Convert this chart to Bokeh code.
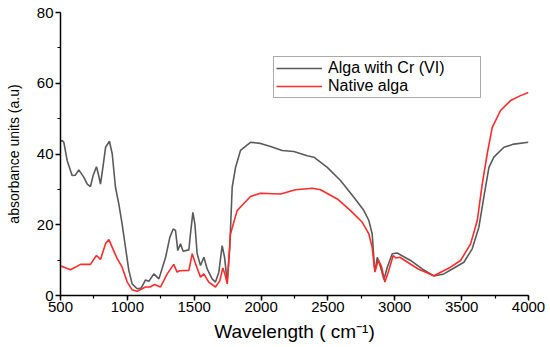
from bokeh.plotting import figure
from bokeh.models import Range1d, SingleIntervalTicker, Legend, LegendItem
from bokeh.embed import file_html
from bokeh.resources import INLINE

# Alga with Cr (VI)
cr_wavenumber = [500, 513, 525, 550, 587, 610, 637, 675, 700, 724, 744, 769, 785, 799, 820,
                 837, 866, 887, 911, 936, 961, 986, 1011, 1036, 1073, 1103, 1136, 1161,
                 1198, 1236, 1286, 1318, 1343, 1360, 1377, 1397, 1417, 1460, 1472, 1490,
                 1505, 1522, 1547, 1572, 1597, 1634, 1659, 1684, 1709, 1727, 1747, 1766,
                 1784, 1809, 1846, 1921, 1996, 2071, 2158, 2245, 2345, 2395, 2495, 2594,
                 2694, 2769, 2806, 2831, 2848, 2856, 2869, 2894, 2919, 2944, 2981, 3018,
                 3118, 3205, 3292, 3367, 3430, 3517, 3579, 3629, 3666, 3704, 3741, 3816,
                 3891, 4000]
cr_absorbance = [43.5, 43.8, 43.3, 38.1, 33.9, 34.0, 35.5, 33.4, 31.5, 30.8, 33.9, 36.4, 34.0,
                 31.5, 37.0, 41.9, 43.6, 40.0, 30.6, 25.9, 20.2, 13.6, 7.1, 3.3, 1.9, 2.1,
                 4.4, 4.0, 6.1, 4.7, 10.8, 16.5, 18.8, 18.4, 12.7, 14.6, 12.5, 12.9, 17.4,
                 23.5, 20.2, 11.8, 8.5, 10.8, 7.5, 4.7, 3.8, 6.6, 14.1, 10.8, 3.8, 13.6,
                 30.6, 36.2, 41.0, 43.3, 43.0, 42.1, 41.0, 40.7, 39.5, 39.1, 36.2, 32.5,
                 27.8, 24.0, 21.2, 17.4, 8.0, 7.5, 10.8, 8.0, 4.5, 8.0, 11.8, 12.0,
                 9.9, 7.5, 5.5, 6.1, 7.5, 9.4, 13.2, 19.3, 27.8, 36.2, 39.1, 41.9,
                 42.8, 43.3]

# Native alga
native_wavenumber = [500, 513, 575, 650, 724, 769, 799, 837, 862, 887, 924, 961, 999, 1036,
                     1073, 1136, 1170, 1203, 1248, 1298, 1347, 1372, 1390, 1460, 1485, 1510,
                     1547, 1572, 1609, 1659, 1692, 1714, 1729, 1747, 1771, 1821, 1846, 1921,
                     1996, 2146, 2258, 2383, 2445, 2570, 2669, 2757, 2806, 2831, 2851, 2877,
                     2902, 2926, 2951, 2988, 3008, 3038, 3175, 3292, 3417, 3492, 3567, 3617,
                     3654, 3691, 3729, 3791, 3866, 3940, 4000]
native_absorbance = [8.3, 8.2, 7.3, 8.8, 8.8, 11.3, 10.2, 14.6, 15.8, 13.6, 10.4, 8.0, 3.8, 1.6,
                     1.2, 2.4, 2.4, 3.1, 2.4, 6.1, 8.8, 6.6, 7.0, 7.1, 11.8, 9.0,
                     5.2, 6.1, 3.8, 2.4, 4.2, 7.8, 6.1, 3.3, 17.4, 24.0, 25.0, 28.0,
                     28.9, 28.7, 29.9, 30.3, 29.9, 27.3, 24.0, 20.7, 17.4, 13.6, 6.6, 10.1,
                     8.0, 3.8, 6.6, 11.3, 10.6, 10.8, 7.5, 5.6, 8.0, 9.9, 14.6, 21.2,
                     31.5, 40.0, 47.5, 52.3, 55.1, 56.5, 57.4]

series_names = ["Alga with Cr (VI)", "Native alga"]
x_label = "Wavelength ( cm\u207b\u00b9)"
y_label = "absorbance units (a.u)"

FONT = "Liberation Sans"

p = figure(width=550, height=347, output_backend="svg", toolbar_location=None,
           x_range=Range1d(500, 4000), y_range=Range1d(0, 80),
           min_border_left=60, min_border_right=22, min_border_top=12, min_border_bottom=52)
p.outline_line_color = None
p.grid.visible = False
p.background_fill_color = "white"
p.border_fill_color = "white"

r1 = p.line(cr_wavenumber, cr_absorbance, line_color="#5a5a5a", line_width=1.6)
r2 = p.line(native_wavenumber, native_absorbance, line_color="#ff2a2a", line_width=1.6)

p.xaxis.ticker = SingleIntervalTicker(interval=500, num_minor_ticks=2)
p.yaxis.ticker = SingleIntervalTicker(interval=20, num_minor_ticks=2)

for ax in (p.xaxis, p.yaxis):
    ax.axis_line_color = "black"
    ax.axis_line_width = 1.5
    ax.major_tick_line_color = "black"
    ax.major_tick_line_width = 1.5
    ax.minor_tick_line_color = "black"
    ax.minor_tick_line_width = 1.2
    ax.major_tick_in = 0
    ax.major_tick_out = 5
    ax.minor_tick_in = 0
    ax.minor_tick_out = 3
    ax.major_label_text_font = FONT
    ax.major_label_text_font_size = "15px"
    ax.major_label_text_color = "black"
    ax.axis_label_text_font = FONT
    ax.axis_label_text_font_style = "normal"
    ax.axis_label_text_color = "black"

p.xaxis.axis_label = x_label
p.xaxis.axis_label_text_font_size = "19px"
p.xaxis.major_label_standoff = 1
p.xaxis.axis_label_standoff = 6
p.yaxis.axis_label = y_label
p.yaxis.axis_label_text_font_size = "14px"
p.yaxis.major_label_standoff = 2
p.yaxis.axis_label_standoff = 12

legend = Legend(items=[LegendItem(label=series_names[0], renderers=[r1]),
                       LegendItem(label=series_names[1], renderers=[r2])],
                location=(213, 197))
legend.border_line_color = "#555555"
legend.border_line_width = 1
legend.background_fill_alpha = 1
legend.label_text_font = FONT
legend.label_text_font_size = "16px"
legend.label_text_color = "black"
legend.glyph_width = 46
legend.glyph_height = 16
legend.label_height = 16
legend.label_width = 150
legend.label_standoff = 6
legend.padding = 2
legend.spacing = 0
legend.margin = 0
p.add_layout(legend, "center")

open("out.html", "w").write(file_html(p, INLINE))
